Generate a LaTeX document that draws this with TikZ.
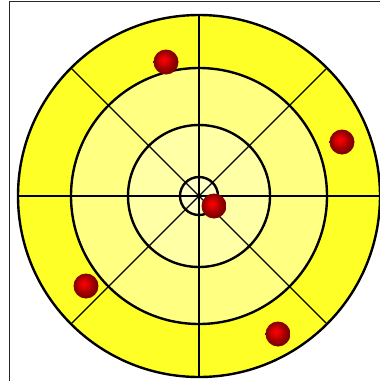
\documentclass[tikz,border=0pt]{standalone}
\usetikzlibrary{shadings}
\definecolor{ringA}{RGB}{255,255,40}
\definecolor{ringB}{RGB}{255,255,130}
\definecolor{ringC}{RGB}{255,255,165}
\definecolor{ringD}{RGB}{255,255,200}
\definecolor{framec}{RGB}{40,40,40}
\pgfdeclareradialshading{redball}{\pgfpoint{-5bp}{5bp}}{%
  color(0bp)=(red);
  color(7bp)=(red!88!black);
  color(18bp)=(red!60!black);
  color(30bp)=(red!42!black);
  color(42bp)=(red!25!black);
  color(50bp)=(red!15!black)}
\tikzset{
  ring/.style={draw=black, line width=2.4pt},
  spoke/.style={draw=black, line width=1.3pt},
  marble/.style={circle, minimum size=25pt, inner sep=0pt, shading=redball},
}
\begin{document}
\begin{tikzpicture}[x=1pt,y=-1pt]
\useasboundingbox (0,0) rectangle (380,381);
\fill[white] (0,0) rectangle (380,381);
\draw[framec, line width=1pt] (9,390) -- (9,1.5) -- (390,1.5);
\begin{scope}
\clip (0,0) rectangle (380,381);
\coordinate (c) at (199,196);
\fill[ringA] (c) circle[radius=181];
\fill[ringB] (c) circle[radius=128];
\fill[ringC] (c) circle[radius=71];
\fill[ringD] (c) circle[radius=19];
\foreach \a in {0,45,...,315}{
  \draw[spoke] (c) -- ++(\a:181);
}
\draw[ring] (c) circle[radius=181];
\draw[ring] (c) circle[radius=128];
\draw[ring] (c) circle[radius=71];
\draw[ring] (c) circle[radius=19];
\end{scope}
\node[marble] (b1) at (166,62) {};
\node[marble] (b2) at (342,142) {};
\node[marble] (b3) at (214,206) {};
\node[marble] (b4) at (86,286) {};
\node[marble] (b5) at (278,334) {};
\end{tikzpicture}
\end{document}
